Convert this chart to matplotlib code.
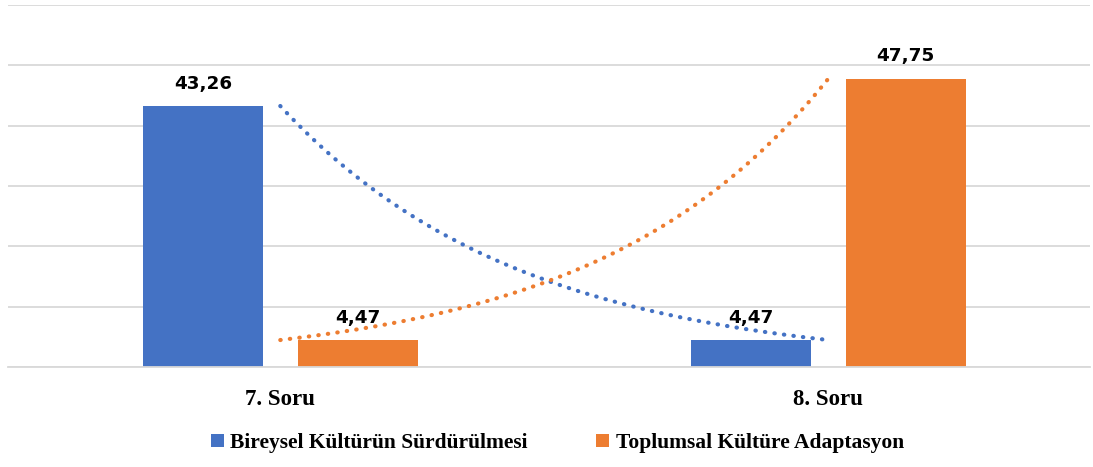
import matplotlib.pyplot as plt
import numpy as np

categories = ['7. Soru', '8. Soru']
series_names = ['Bireysel Kültürün Sürdürülmesi', 'Toplumsal Kültüre Adaptasyon']
bireysel = [43.26, 4.47]
toplumsal = [4.47, 47.75]
colors = ['#4472C4', '#ED7D31']

fig = plt.figure(figsize=(10.93, 4.67), dpi=100)
ax = fig.add_axes([8 / 1093, 100 / 467, 1082 / 1093, 362 / 467])

x = np.arange(len(categories))
width = 0.219
offset = 0.1414

for vals, off, col, name in [(bireysel, -offset, colors[0], series_names[0]),
                              (toplumsal, offset, colors[1], series_names[1])]:
    bars = ax.bar(x + off, vals, width, color=col, label=name, zorder=2)
    for b, v in zip(bars, vals):
        ax.text(b.get_x() + b.get_width() / 2, v + 2.9, f'{v:.2f}'.replace('.', ','),
                ha='center', va='baseline', fontsize=13.2, fontweight='bold',
                family='DejaVu Sans')

    # exponential trendline through category points (x = 1, 2)
    b_coef = np.log(vals[1] / vals[0])
    xs = np.linspace(0, 1, 200)
    ys = vals[0] * np.exp(b_coef * xs)
    ax.plot(xs, ys, color=col, linestyle=(0, (0.1, 2.2)), linewidth=3,
            dash_capstyle='round', zorder=3)

ax.set_xlim(-0.497, 1.478)
ax.set_ylim(0, 60)
ax.set_yticks(np.arange(0, 61, 10))
ax.yaxis.grid(True, color='#d9d9d9', linewidth=1.3, zorder=0)
ax.tick_params(axis='y', left=False, labelleft=False)
ax.tick_params(axis='x', bottom=False, pad=12)
ax.set_xticks(x)
ax.set_xticklabels(categories, fontsize=16.5, fontweight='bold', family='Liberation Serif')
for s in ['top', 'right', 'left']:
    ax.spines[s].set_visible(False)
ax.spines['bottom'].set_color('#d9d9d9')
ax.spines['bottom'].set_linewidth(1.3)

leg = fig.legend(loc='center', bbox_to_anchor=(0.51, 24 / 467), ncol=2, frameon=False,
                 prop={'family': 'Liberation Serif', 'weight': 'bold', 'size': 15.5},
                 handlelength=0.6, handleheight=0.6, handletextpad=0.3, columnspacing=3.2)

fig.savefig('out.png', dpi=100)
